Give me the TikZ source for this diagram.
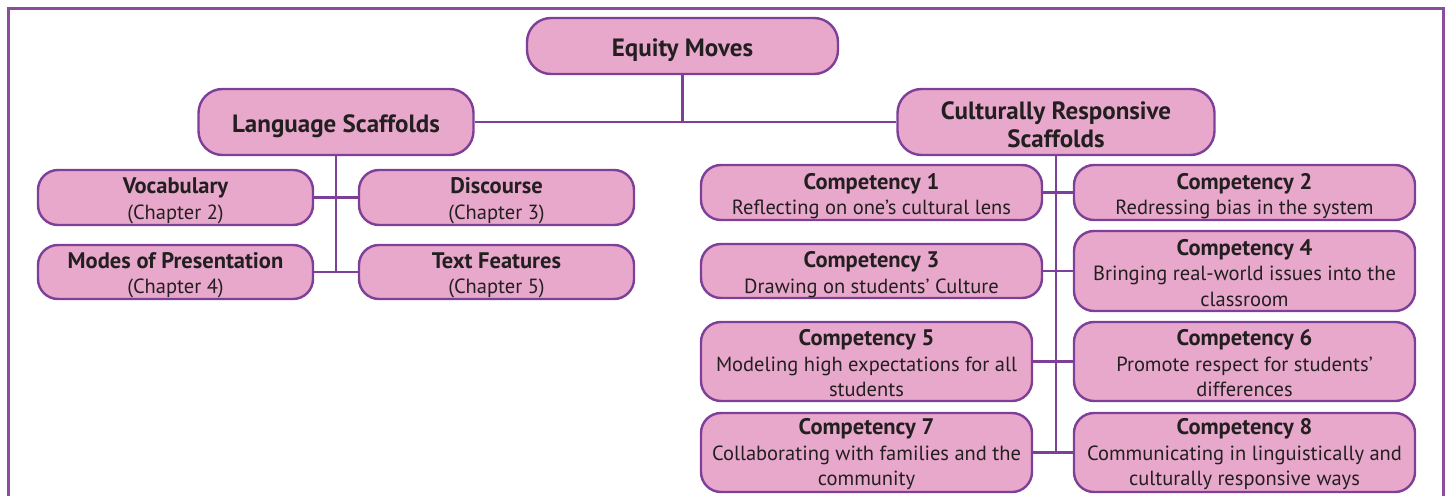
\documentclass[tikz,border=0pt]{standalone}
\usepackage{fontspec}
\setmainfont{PT Sans}
\definecolor{boxfill}{HTML}{E8A8CB}
\definecolor{boxline}{HTML}{7E3F98}
\definecolor{framecol}{HTML}{8A4E9E}
\definecolor{txt}{HTML}{231F20}
\newcommand{\hd}[1]{{\fontsize{22.5}{25.5}\selectfont\bfseries #1}}
\begin{document}
\begin{tikzpicture}[x=1pt,y=-1pt,
  box/.style={draw=boxline, fill=boxfill, line width=2.4pt, inner sep=0pt},
  bigbox/.style={box, rounded corners=24pt},
  smallbox/.style={box, rounded corners=20pt},
  bigtext/.style={text=txt, align=center, inner sep=0pt, yshift=-4pt, font=\fontsize{25}{28}\selectfont\bfseries},
  smalltext/.style={text=txt, align=center, inner sep=0pt, yshift=-3.5pt, font=\fontsize{20.5}{25.5}\selectfont},
  threetext/.style={smalltext, yshift=1.5pt},
  conn/.style={draw=boxline, line width=2.4pt}
]
\useasboundingbox (0,0) rectangle (1450,495);
\draw[framecol, line width=3pt] (8.5,500) -- (8.5,8.5) -- (1443,8.5) -- (1443,500);

% top level
\node[bigbox, minimum width=311pt, minimum height=56pt] (eq) at (682.5,46) {};
\node[bigtext] (eqt) at (eq) {Equity Moves};
\node[bigbox, minimum width=275pt, minimum height=66pt] (lang) at (336,122) {};
\node[bigtext] (langt) at (lang) {Language Scaffolds};
\node[bigbox, minimum width=317pt, minimum height=66pt] (crs) at (1056,122) {};
\node[bigtext, yshift=1pt] (crst) at (crs) {Culturally Responsive\\Scaffolds};

% language scaffolds children
\node[smallbox, minimum width=275pt, minimum height=55pt] (voc) at (175.5,197.5) {};
\node[smalltext] (voct) at (voc) {\hd{Vocabulary}\\(Chapter 2)};
\node[smallbox, minimum width=275pt, minimum height=55pt] (disc) at (496.5,197.5) {};
\node[smalltext] (disct) at (disc) {\hd{Discourse}\\(Chapter 3)};
\node[smallbox, minimum width=275pt, minimum height=54pt] (modes) at (175.5,272) {};
\node[smalltext] (modest) at (modes) {\hd{Modes of Presentation}\\(Chapter 4)};
\node[smallbox, minimum width=275pt, minimum height=54pt] (textf) at (496.5,272) {};
\node[smalltext] (textft) at (textf) {\hd{Text Features}\\(Chapter 5)};

% competencies
\node[smallbox, minimum width=341pt, minimum height=55pt] (c1) at (871.5,192.5) {};
\node[smalltext] (c1t) at (c1) {\hd{Competency 1}\\Reflecting on one’s cultural lens};
\node[smallbox, minimum width=341pt, minimum height=55pt] (c2) at (1244.5,192.5) {};
\node[smalltext] (c2t) at (c2) {\hd{Competency 2}\\Redressing bias in the system};
\node[smallbox, minimum width=341pt, minimum height=54pt] (c3) at (871.5,271) {};
\node[smalltext] (c3t) at (c3) {\hd{Competency 3}\\Drawing on students’ Culture};
\node[smallbox, minimum width=341pt, minimum height=80pt] (c4) at (1244.5,271) {};
\node[threetext] (c4t) at (c4) {\hd{Competency 4}\\Bringing real-world issues into the\\classroom};
\node[smallbox, minimum width=331pt, minimum height=79pt] (c5) at (866.5,361.5) {};
\node[threetext] (c5t) at (c5) {\hd{Competency 5}\\Modeling high expectations for all\\students};
\node[smallbox, minimum width=341pt, minimum height=79pt] (c6) at (1244.5,361.5) {};
\node[threetext] (c6t) at (c6) {\hd{Competency 6}\\Promote respect for students’\\differences};
\node[smallbox, minimum width=331pt, minimum height=79pt] (c7) at (866.5,452.5) {};
\node[threetext] (c7t) at (c7) {\hd{Competency 7}\\Collaborating with families and the\\community};
\node[smallbox, minimum width=341pt, minimum height=79pt] (c8) at (1244.5,452.5) {};
\node[threetext] (c8t) at (c8) {\hd{Competency 8}\\Communicating in linguistically and\\culturally responsive ways};

% connectors
\draw[conn] (lang.east) -- (crs.west);
\draw[conn] (eq.south) -- (eq.south |- lang.east);
\draw[conn] (lang.south) -- (lang.south |- modes.east);
\draw[conn] (voc.east) -- (disc.west);
\draw[conn] (modes.east) -- (textf.west);
\draw[conn] (crs.south) -- (crs.south |- c7.east);
\draw[conn] (c1.east) -- (c2.west);
\draw[conn] (c3.east) -- (c4.west);
\draw[conn] (c5.east) -- (c6.west);
\draw[conn] (c7.east) -- (c8.west);
\end{tikzpicture}
\end{document}
